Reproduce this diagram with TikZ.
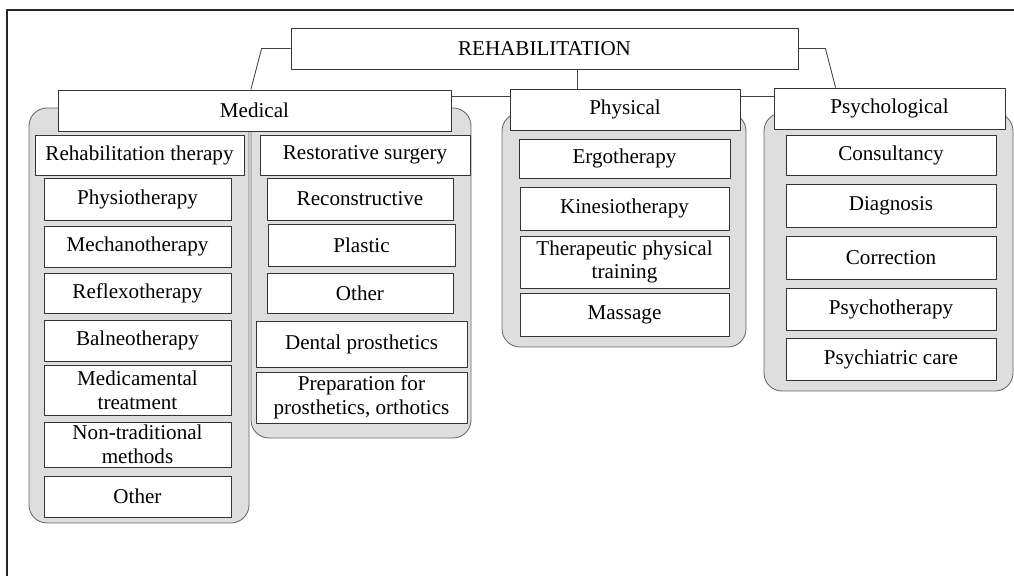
\documentclass[tikz,border=0pt]{standalone}
\usepackage{fontspec}
\setmainfont{Liberation Serif}
\begin{document}
\begin{tikzpicture}[x=0.025cm,y=-0.025cm,line join=round,font=\fontsize{15}{17}\selectfont,
    box/.style={draw=black!80,line width=0.6pt,fill=white,inner sep=0pt,align=center},
    panel/.style={draw=black!60,line width=0.6pt,fill=black!13,rounded corners=0.45cm},
    link/.style={draw=black!75,line width=0.6pt}]
                \useasboundingbox (0,0) rectangle (1014,576);
                \draw[line width=1.3pt,black!85] (7,576) -- (7,10) -- (1014,10);
                % shaded groups
                \draw[panel] (29,108) rectangle (249,523);
                \draw[panel] (251,108) rectangle (471,438);
                \draw[panel] (502,113) rectangle (746,347);
                \draw[panel] (764,113) rectangle (1013,391);
                \foreach \n/\xa/\ya/\xb/\yb/\t in {rehab/291/28/798/69/REHABILITATION,
                    med/58/90/451/131/Medical,phy/510/89/740/130/Physical,psy/774/88/1005/129/Psychological,
                    rth/35/135/244/175/Rehabilitation therapy,physio/44/178/231/220/Physiotherapy,
                    mech/44/226/231/267/Mechanotherapy,refl/44/273/231/313/Reflexotherapy,
                    baln/44/320/231/361/Balneotherapy,medic/44/365/231/415/Medicamental\\treatment,
                    nontr/44/422/231/467/Non-traditional\\methods,oth1/44/476/231/517/Other,
                    rsur/260/135/470/175/Restorative surgery,recon/267/178/453/220/Reconstructive,
                    plast/268/224/455/266/Plastic,oth2/267/273/453/313/Other,
                    dent/256/321/467/367/Dental prosthetics,prep/256/372/467/423/{Preparation for\\prosthetics, orthotics},
                    ergo/519/139/730/178/Ergotherapy,kine/520/187/729/230/Kinesiotherapy,
                    ther/520/236/729/288/Therapeutic physical\\training,mass/520/293/729/336/Massage,
                    cons/786/135/996/175/Consultancy,diag/786/184/996/227/Diagnosis,
                    corr/786/236/996/279/Correction,psyt/786/288/996/330/Psychotherapy,
                    psyc/786/338/996/380/Psychiatric care}
                    \node[box,minimum width={(\xb-\xa)*0.025cm},minimum height={(\yb-\ya)*0.025cm}]
                        (\n) at ({(\xa+\xb)/2},{(\ya+\yb)/2}) {\t};
                % connectors
                \coordinate (hb) at (0,96);
                \coordinate (rp) at (577,89);
                \draw[link] (rehab.west) -- ++(-29,0) -- ([xshift=-0.09cm]med.north);
                \draw[link] (rehab.east) -- ++(27,0) -- ([xshift=1.55cm]psy.north west);
                \draw[link] (rehab.south -| rp) -- (rp);
                \draw[link] (med.east |- hb) -- (phy.west |- hb);
                \draw[link] (phy.east |- hb) -- (psy.west |- hb);
            \end{tikzpicture}
\end{document}
